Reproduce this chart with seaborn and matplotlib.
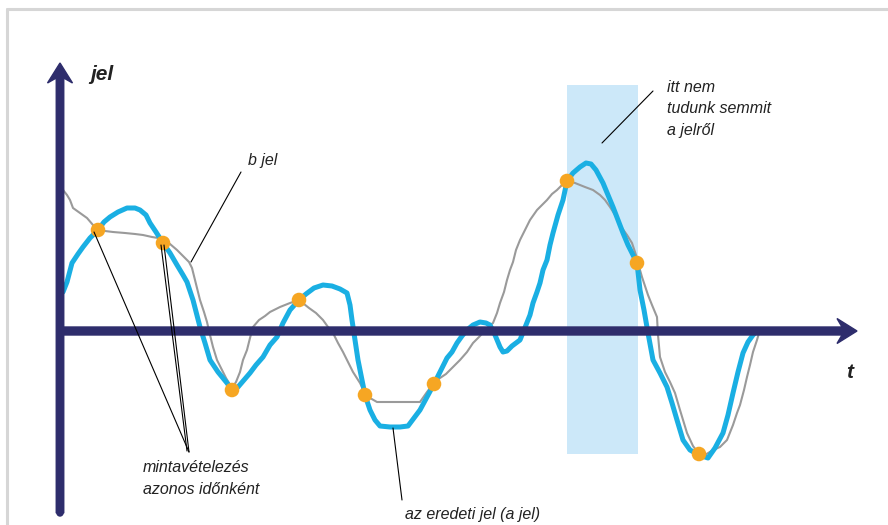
import numpy as np
import pandas as pd
import matplotlib.pyplot as plt
from matplotlib.patches import Rectangle
import seaborn as sns

# az eredeti jel (a jel) - kék görbe
a_t = [3, 7, 12, 18, 23, 30, 38, 44, 50, 58, 67, 75, 80, 86, 90, 96, 103, 110, 117, 123,
       127, 133, 140, 145, 150, 158, 167, 172, 178, 184, 190, 196, 203, 210, 217, 223, 230,
       239, 246, 254, 263, 272, 280, 287, 290, 292, 295, 298, 302, 305, 310, 315, 320, 330,
       340, 348, 354, 360, 367, 374, 381, 387, 392, 397, 402, 407, 413, 420, 426, 430, 435,
       440, 443, 447, 452, 460, 466, 470, 473, 477, 480, 483, 487, 490, 493, 498, 503, 507,
       513, 520, 526, 531, 536, 543, 548, 553, 558, 563, 568, 572, 577, 580, 584, 588, 593,
       600, 607, 612, 617, 623, 630, 639, 648, 655, 663, 668, 673, 678, 683, 688, 693, 696]
a_jel = [39, 49, 68, 77, 84, 93, 101, 109, 114, 119, 123, 123, 121, 116, 108, 99, 88, 78, 66,
         56, 49, 31, 4, -12, -29, -41, -52, -59, -56, -49, -42, -34, -26, -14, -6, 8, 21, 31,
         37, 43, 46, 45, 42, 38, 26, 11, -9, -29, -49, -64, -79, -89, -95, -96, -96, -95, -87,
         -79, -66, -53, -39, -27, -21, -12, -5, 1, 6, 9, 8, 6, -4, -16, -21, -20, -15, -9, 6,
         16, 28, 39, 48, 61, 71, 86, 98, 116, 131, 150, 158, 164, 168, 167, 161, 148, 136,
         124, 111, 98, 86, 78, 68, 41, 21, -2, -29, -42, -56, -72, -89, -109, -119, -124,
         -127, -117, -102, -84, -62, -41, -22, -11, -4, -1]

# b jel - szürke görbe
b_t = [3, 7, 10, 13, 20, 27, 33, 38, 45, 53, 65, 75, 83, 92, 98, 103, 110, 117, 123, 129,
       132, 135, 138, 140, 144, 147, 150, 153, 157, 161, 166, 172, 176, 180, 183, 187, 190,
       193, 199, 205, 210, 220, 230, 239, 244, 249, 256, 263, 268, 273, 278, 283, 288, 293,
       300, 305, 310, 317, 330, 345, 360, 367, 374, 380, 386, 393, 400, 407, 413, 420, 427,
       433, 437, 440, 444, 447, 450, 453, 456, 460, 465, 470, 477, 487, 492, 497, 502, 507,
       515, 525, 533, 540, 545, 550, 557, 562, 567, 572, 576, 580, 582, 588, 592, 597, 598,
       600, 605, 610, 615, 620, 627, 633, 639, 645, 653, 660, 667, 673, 677, 680, 684, 687,
       690, 693, 697, 699]
b_jel = [141, 136, 131, 123, 118, 113, 106, 102, 100, 99, 98, 97, 96, 94, 93, 91, 87, 81, 75,
         69, 63, 51, 39, 31, 19, 9, -4, -16, -29, -37, -47, -57, -51, -41, -29, -19, -7, 4,
         11, 15, 19, 24, 28, 31, 27, 23, 18, 11, 4, -2, -12, -21, -31, -41, -52, -62, -67,
         -71, -71, -71, -71, -61, -52, -47, -43, -36, -29, -21, -12, -5, 3, 8, 18, 28, 39, 51,
         61, 69, 81, 91, 101, 111, 121, 131, 137, 141, 146, 150, 148, 144, 141, 136, 131, 124,
         113, 103, 96, 88, 76, 61, 54, 36, 26, 14, -4, -26, -41, -51, -62, -79, -102, -115,
         -123, -124, -119, -116, -109, -94, -82, -74, -59, -46, -34, -21, -9, -2]

# mintavételezés azonos időnként
minta_t = [38, 103, 172, 239, 305, 374, 507, 577, 639]
minta_jel = [101, 88, -59, 31, -64, -53, 150, 68, -123]

# ismeretlen szakasz
ures_t = (507, 578)
ures_jel = (-123, 246)

navy = "#2e2d6c"
kek = "#1aafe3"
narancs = "#f6a623"

sns.set_theme(style="white")
plt.rcParams["font.family"] = ["Liberation Sans", "DejaVu Sans"]

fig = plt.figure(figsize=(8.88, 5.25), dpi=100)
ax = fig.add_axes([0, 0, 1, 1])
ax.set_xlim(-60, 828)
ax.set_ylim(-194, 331)
ax.axis("off")

# keret
ax.plot([-53, 828], [322, 322], color="#d6d6d6", lw=2.2, zorder=0)
ax.plot([-53, -53], [322, -194], color="#d6d6d6", lw=2.2, zorder=0)

ax.add_patch(Rectangle((ures_t[0], ures_jel[0]), ures_t[1] - ures_t[0], ures_jel[1] - ures_jel[0],
                       facecolor="#cce8f9", edgecolor="none", zorder=0.5))

df_a = pd.DataFrame({"t": a_t, "jel": a_jel})
df_b = pd.DataFrame({"t": b_t, "jel": b_jel})
df_m = pd.DataFrame({"t": minta_t, "jel": minta_jel})

sns.lineplot(data=df_b, x="t", y="jel", sort=False, estimator=None, color="#9a9a9a",
             lw=1.5, ax=ax, zorder=2)
sns.lineplot(data=df_a, x="t", y="jel", sort=False, estimator=None, color=kek,
             lw=3.6, ax=ax, zorder=2.5, solid_joinstyle="round", solid_capstyle="round")

# tengelyek
ax.plot([0, 0], [-182, -150], color=navy, lw=5.4, solid_capstyle="round", zorder=3)
ax.arrow(0, -182, 0, 450, width=7.5, head_width=25, head_length=20, overhang=0.25,
         length_includes_head=True, color=navy, zorder=3)
ax.arrow(0, 0, 797, 0, width=8, head_width=25, head_length=20, overhang=0.25,
         length_includes_head=True, color=navy, zorder=3)

sns.scatterplot(data=df_m, x="t", y="jel", color=narancs, s=110, edgecolor="none",
                ax=ax, zorder=4)

# magyarázó vonalak
vonal = dict(arrowstyle="-", lw=0.8, color="black", shrinkA=0, shrinkB=0)
ax.annotate("", xy=(131, 69), xytext=(181, 159), arrowprops=vonal, zorder=5)
ax.annotate("", xy=(34, 99), xytext=(129, -121), arrowprops=vonal, zorder=5)
ax.annotate("", xy=(101, 86), xytext=(127, -120), arrowprops=vonal, zorder=5)
ax.annotate("", xy=(104, 86), xytext=(129, -121), arrowprops=vonal, zorder=5)
ax.annotate("", xy=(333, -97), xytext=(342, -169), arrowprops=vonal, zorder=5)
ax.annotate("", xy=(542, 188), xytext=(593, 240), arrowprops=vonal, zorder=5)

szoveg = dict(fontsize=11.5, style="italic", color="#222222", va="center", ha="left")
ax.text(30, 257, "jel", fontsize=15, style="italic", fontweight="bold", color="#222222",
        va="center", ha="left")
ax.text(786, -42, "t", fontsize=15, style="italic", fontweight="bold", color="#222222",
        va="center", ha="left")
ax.text(188, 171, "b jel", **szoveg)
for i, sor in enumerate(["itt nem", "tudunk semmit", "a jelről"]):
    ax.text(607, 244 - i * 21.5, sor, **szoveg)
ax.text(83, -136, "mintavételezés", **szoveg)
ax.text(83, -158, "azonos időnként", **szoveg)
ax.text(345, -184, "az eredeti jel (a jel)", **szoveg)

fig.savefig("out.png", dpi=100)
